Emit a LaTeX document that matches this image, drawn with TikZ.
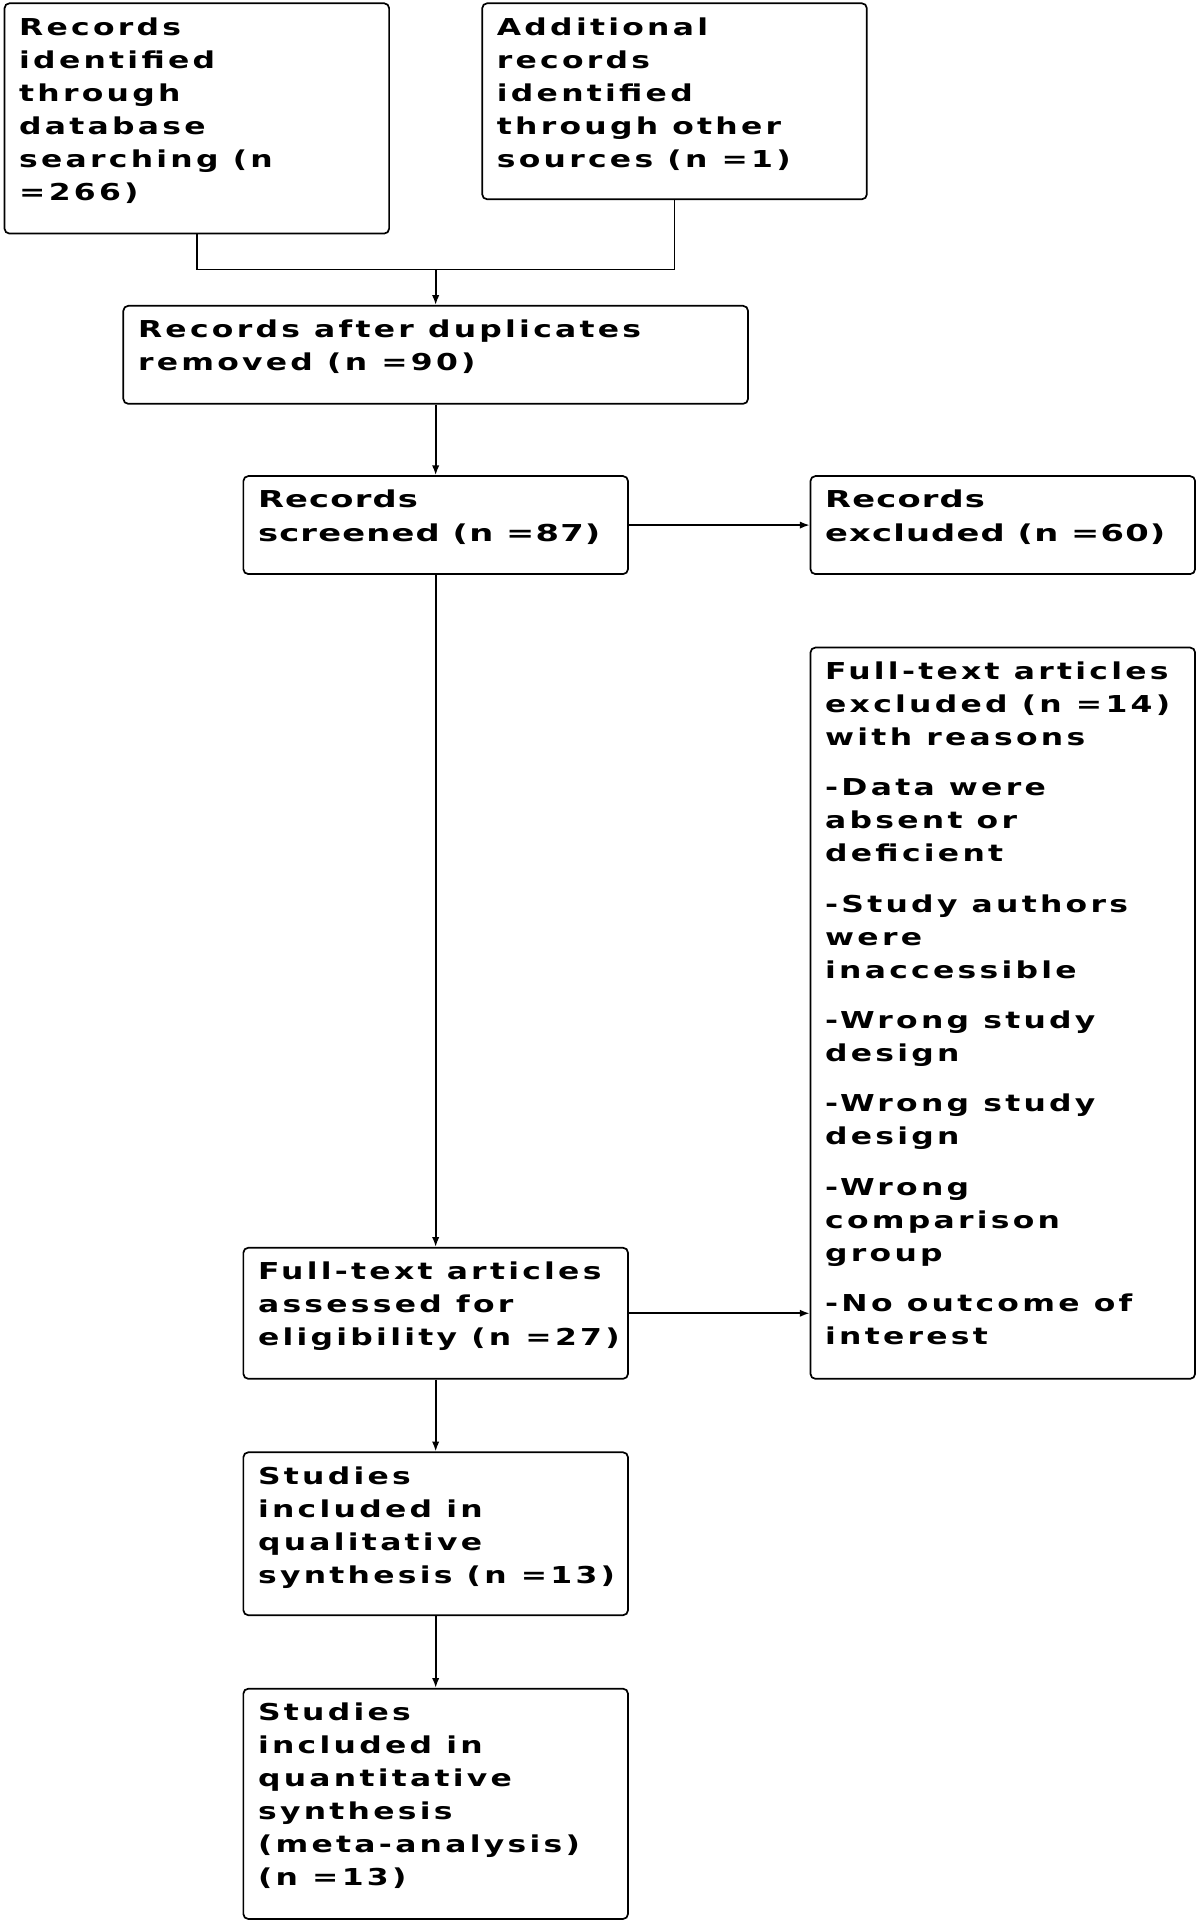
\documentclass[tikz,border=0pt]{standalone}
\usepackage{fontspec}
\usetikzlibrary{arrows.meta}
\newfontfamily\boxfont[FakeStretch=1.35,LetterSpace=14]{DejaVu Sans}
\newfontfamily\boxfontb[FakeStretch=1.45,LetterSpace=5]{DejaVu Sans}
\newcommand{\bxt}[4]{\parbox[c][#2][t]{#1}{#4\bfseries\fontsize{19}{27}\selectfont\leftskip=12pt\parindent=0pt\parskip=0pt\rightskip=0pt plus 1fil\rule{0pt}{26pt}#3}}
\tikzset{
  fbox/.style={draw, line width=1.4pt, rounded corners=4pt, inner sep=0pt, anchor=north west},
  conn/.style={line width=1.4pt},
  arr/.style={line width=1.4pt, -{Latex[length=8pt,width=6pt]}}
}
\begin{document}
\begin{tikzpicture}[x=1pt,y=-1pt]
\useasboundingbox[fill=white] (0,0) rectangle (980,1570);
\node[fbox] (A) at (3,2) {\bxt{314pt}{188pt}{Records\\identified\\through\\database\\searching (n\\=266)}{\boxfont}};
\node[fbox] (B) at (393,2) {\bxt{314pt}{160pt}{Additional\\records\\identified\\through other\\sources (n =1)}{\boxfont}};
\node[fbox] (C) at (100,249) {\bxt{510pt}{80pt}{Records after duplicates\\removed (n =90)}{\boxfont}};
\node[fbox] (D) at (198,388) {\bxt{314pt}{80pt}{Records\\screened (n =87)}{\boxfontb}};
\node[fbox] (E) at (661,388) {\bxt{314pt}{80pt}{Records\\excluded (n =60)}{\boxfontb}};
\node[fbox] (F) at (661,528) {\bxt{314pt}{597pt}{Full-text articles\\excluded (n =14)\\with reasons\\[14pt]-Data were\\absent or\\deficient\\[14pt]-Study authors\\were\\inaccessible\\[14pt]-Wrong study\\design\\[14pt]-Wrong study\\design\\[14pt]-Wrong\\comparison\\group\\[14pt]-No outcome of\\interest}{\boxfont}};
\node[fbox] (G) at (198,1018) {\bxt{314pt}{107pt}{Full-text articles\\assessed for\\eligibility (n =27)}{\boxfont}};
\node[fbox] (H) at (198,1185) {\bxt{314pt}{133pt}{Studies\\included in\\qualitative\\synthesis (n =13)}{\boxfont}};
\node[fbox] (I) at (198,1378) {\bxt{314pt}{188pt}{Studies\\included in\\quantitative\\synthesis\\(meta-analysis)\\(n =13)}{\boxfont}};
\coordinate (j) at (C.north |- 0,220);
\draw[conn] (A.south) |- (j);
\draw[conn] (B.south) |- (j);
\draw[arr] (j) -- (C.north);
\draw[arr] (C.south) -- (D.north);
\draw[arr] (D.east) -- (E.west);
\draw[arr] (D.south) -- (G.north);
\draw[arr] (G.east) -- (G.east -| F.west);
\draw[arr] (G.south) -- (H.north);
\draw[arr] (H.south) -- (I.north);
\end{tikzpicture}
\end{document}
